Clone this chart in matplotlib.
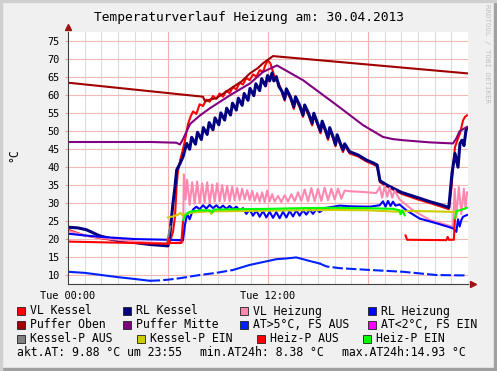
import numpy as np
import matplotlib
matplotlib.use("Agg")
import matplotlib.pyplot as plt
from matplotlib.patches import Rectangle

# --- data (hours since 00:00, degC) ---
vlk_t = [0, 0.5, 1, 2, 3, 4, 5, 5.9, 6.1, 6.3, 6.42, 6.52, 6.6, 6.76, 6.9, 7.02, 7.2, 7.35, 7.5, 7.7,
         7.9, 8.1, 8.3, 8.5, 8.7, 8.9, 9.1, 9.3, 9.5, 9.7, 9.9, 10.1, 10.3, 10.5, 10.7, 10.9, 11.1, 11.3,
         11.5, 11.7, 11.85, 12.0, 12.15, 12.3, 12.45, 12.6, 12.8, 13.0, 13.1, 13.35, 13.55, 13.65, 13.9,
         14.1, 14.2, 14.45, 14.65, 14.75, 14.95, 15.15, 15.25, 15.45, 15.6, 15.7, 15.9, 16.05, 16.15,
         16.35, 16.5, 16.6, 16.9, 17.4, 17.9, 18.3, 18.55, 18.72, 19.14, 20.0, 21.0, 21.72, 22.4, 22.85,
         23.0, 23.1, 23.22, 23.4, 23.52, 23.7, 23.82, 23.94]
vlk_v = [22.6, 21.8, 21.0, 20.2, 19.5, 19.0, 18.6, 18.5, 19.0, 22.0, 26.2, 35.0, 39.0, 42.5, 45.0, 47.5,
         52.0, 54.0, 55.5, 54.8, 57.5, 57.0, 58.8, 58.2, 59.8, 59.0, 60.5, 59.6, 61.2, 60.6, 62.3, 61.6,
         63.5, 63.0, 64.8, 64.2, 65.8, 65.2, 67.0, 66.5, 68.5, 69.7, 68.8, 66.5, 64.2, 63.8, 61.5, 58.5,
         61.2, 59.0, 56.2, 59.0, 56.6, 54.0, 56.7, 54.2, 51.6, 54.4, 52.0, 49.4, 52.2, 49.8, 47.6, 50.4,
         48.0, 45.8, 48.4, 46.0, 44.2, 46.0, 43.8, 43.0, 41.6, 40.8, 40.2, 35.8, 34.6, 32.6, 31.0, 30.0,
         29.0, 28.3, 34.0, 40.0, 45.6, 48.0, 49.4, 53.0, 54.0, 54.4]

rlk_t = [0, 0.6, 1.1, 1.9, 2.9, 4.9, 6.0, 6.12, 6.3, 6.42, 6.52, 6.72, 6.9, 7.12, 7.3, 7.42, 7.65, 7.77,
         8.0, 8.12, 8.35, 8.47, 8.7, 8.82, 9.05, 9.17, 9.4, 9.52, 9.75, 9.87, 10.1, 10.22, 10.45, 10.57,
         10.8, 10.92, 11.15, 11.27, 11.5, 11.62, 11.85, 11.97, 12.1, 12.24, 12.35, 12.5, 12.65, 12.85,
         13.0, 13.1, 13.35, 13.55, 13.65, 13.9, 14.1, 14.2, 14.45, 14.65, 14.75, 14.95, 15.15, 15.25,
         15.45, 15.6, 15.7, 15.9, 16.05, 16.15, 16.35, 16.5, 16.6, 16.9, 17.4, 17.9, 18.3, 18.55, 18.72,
         19.14, 20.0, 21.0, 21.72, 22.4, 22.85, 23.04, 23.22, 23.4, 23.52, 23.64, 23.76, 23.88, 23.94]
rlk_v = [23.3, 23.1, 22.6, 20.9, 19.7, 18.5, 18.1, 21.7, 30.0, 34.5, 39.2, 41.0, 42.9, 46.6, 45.0, 48.3,
         46.4, 49.7, 47.7, 51.0, 49.1, 52.4, 50.4, 53.7, 51.8, 55.1, 53.1, 56.4, 54.5, 57.8, 55.9, 59.2,
         57.2, 60.5, 58.6, 61.9, 59.9, 63.2, 61.3, 64.6, 62.6, 65.5, 64.0, 66.2, 64.0, 65.2, 62.5, 61.0,
         59.0, 61.8, 59.5, 56.8, 59.6, 57.2, 54.5, 57.3, 54.8, 52.2, 55.0, 52.5, 50.0, 52.8, 50.3, 48.2,
         51.0, 48.5, 46.3, 49.0, 46.5, 44.8, 46.5, 44.3, 43.4, 42.0, 41.2, 40.6, 36.2, 35.0, 33.0, 31.5,
         30.4, 29.5, 28.8, 38.3, 43.8, 40.0, 46.6, 47.5, 46.0, 50.3, 50.8]

vlh_t = [0, 1, 2, 3, 4, 5, 6.0, 6.9, 6.95, 7.05, 7.15, 7.3, 7.45, 7.6, 7.75, 7.9, 8.05, 8.2, 8.35, 8.5,
         8.65, 8.8, 8.95, 9.1, 9.25, 9.4, 9.55, 9.7, 9.85, 10.0, 10.15, 10.3, 10.45, 10.6, 10.75, 10.9,
         11.05, 11.2, 11.35, 11.5, 11.65, 11.8, 11.95, 12.1, 12.25, 12.4, 12.6, 12.8, 13.0, 13.2, 13.4,
         13.6, 13.8, 14.0, 14.2, 14.4, 14.6, 14.8, 15.0, 15.2, 15.4, 15.6, 15.8, 16.0, 16.2, 16.4, 16.6,
         16.9, 17.7, 18.5, 18.7, 18.85, 19.0, 19.15, 19.3, 19.45, 19.6, 19.9, 20.7, 21.72, 22.74, 23.1,
         23.2, 23.3, 23.45, 23.6, 23.75, 23.85, 23.94]
vlh_v = [22.3, 21.0, 20.3, 19.8, 19.3, 19.0, 18.8, 19.2, 38.0, 31.0, 36.5, 29.5, 35.8, 29.8, 36.0, 30.0,
         35.5, 30.2, 35.8, 30.0, 35.2, 30.4, 35.5, 30.5, 35.0, 30.6, 34.8, 30.5, 34.6, 30.8, 34.2, 30.8,
         34.0, 31.0, 33.6, 30.8, 33.4, 30.6, 32.8, 30.4, 33.0, 30.3, 33.5, 30.5, 32.5, 30.4, 32.0, 30.3,
         32.2, 30.4, 32.5, 30.5, 33.0, 30.6, 33.8, 30.5, 34.2, 30.5, 34.0, 30.6, 34.3, 30.8, 34.0, 31.0,
         34.0, 31.2, 33.5, 33.3, 33.1, 32.8, 34.5, 31.5, 34.8, 31.8, 34.2, 31.5, 33.5, 31.0, 28.0, 25.3,
         23.9, 23.4, 34.0, 26.0, 34.5, 27.0, 34.0, 28.5, 33.0]

rlh_t = [0, 1, 2, 3, 4, 5, 6.9, 7.02, 7.15, 7.3, 7.5, 7.7, 7.9, 8.1, 8.3, 8.5, 8.7, 8.9, 9.1, 9.3, 9.5,
         9.7, 9.9, 10.1, 10.3, 10.5, 10.7, 10.9, 11.1, 11.3, 11.5, 11.7, 11.9, 12.1, 12.3, 12.5, 12.7,
         12.9, 13.1, 13.3, 13.5, 13.7, 13.9, 14.1, 14.3, 14.5, 14.7, 14.9, 15.1, 15.4, 16.3, 17.0, 18.1,
         18.7, 18.9, 19.05, 19.2, 19.35, 19.5, 19.65, 19.9, 20.3, 21.1, 22.1, 23.1, 23.3, 23.4, 23.5,
         23.6, 23.7, 23.94]
rlh_v = [21.5, 21.0, 20.6, 20.3, 20.0, 19.9, 19.7, 24.0, 27.0, 25.5, 28.2, 29.0, 28.3, 29.4, 28.5, 29.5,
         28.6, 29.4, 28.5, 29.3, 28.4, 29.2, 28.3, 29.0, 28.0, 28.6, 27.0, 28.2, 26.5, 27.9, 26.2, 27.8,
         26.0, 27.6, 25.9, 27.5, 25.8, 27.6, 26.0, 27.8, 26.3, 28.0, 26.5, 28.0, 26.8, 28.2, 27.0, 28.3,
         27.5, 28.6, 29.3, 29.1, 29.0, 29.4, 30.5, 29.0, 30.6, 29.2, 30.4, 29.3, 29.6, 28.0, 25.7, 24.4,
         23.0, 22.0, 25.5, 23.5, 25.3, 26.2, 26.7]

po_t = [0, 8.1, 8.22, 8.4, 8.52, 8.9, 9.3, 9.9, 10.4, 10.92, 11.4, 11.7, 12.3, 23.94]
po_v = [63.5, 59.6, 58.3, 58.6, 58.8, 59.2, 60.4, 62.3, 63.8, 66.1, 67.6, 68.9, 70.9, 66.1]

pm_t = [0, 5.0, 6.5, 6.72, 6.9, 7.32, 7.92, 8.52, 9.72, 10.92, 11.7, 12.54, 14.1, 16.14, 17.7, 18.9,
        19.5, 20.1, 21.7, 23.1, 23.3, 23.5, 23.94]
pm_v = [47.0, 47.0, 46.8, 46.3, 47.8, 52.0, 54.4, 56.4, 60.0, 63.3, 66.5, 68.3, 64.2, 57.2, 51.7, 48.4,
        47.8, 47.5, 46.9, 46.6, 48.0, 50.0, 51.2]

at_t = [0, 1, 2, 3, 4, 4.9, 5.5, 6.0, 6.7, 7.9, 8.9, 9.9, 10.9, 11.7, 12.5, 13.1, 13.7, 14.5, 15.1,
        15.5, 16.3, 18.1, 20.1, 22.1, 23.5, 23.94]
at_v = [10.9, 10.6, 10.0, 9.4, 8.9, 8.4, 8.5, 8.7, 9.1, 10.0, 10.6, 11.4, 12.8, 13.6, 14.4, 14.6, 14.9,
        13.9, 13.2, 12.4, 11.9, 11.4, 10.9, 10.0, 9.9, 9.9]

kpa_t = [5.95, 6.05, 6.15]
kpa_v = [19.0, 21.5, 23.5]

kpe_t = [6.0, 6.3, 6.6, 6.75, 6.9, 7.0, 7.5, 8.5, 8.6, 8.7, 12.0, 16.0, 18.0, 19.9, 20.5, 22.0, 23.34]
kpe_v = [26.0, 26.3, 26.8, 27.3, 26.5, 26.8, 27.4, 27.7, 27.0, 27.7, 27.9, 28.1, 28.0, 27.6, 27.8, 27.7, 27.5]

hpa1_t = [0, 3, 6.0, 6.05, 6.12, 6.8, 6.9]
hpa1_v = [19.3, 19.0, 18.7, 20.2, 18.9, 18.9, 25.0]
hpa2_t = [20.25, 20.35, 22.7, 22.78, 22.85, 23.15, 23.22]
hpa2_v = [21.0, 19.8, 19.7, 20.6, 19.8, 19.8, 25.8]

hpe1_t = [6.9, 7.1, 7.32, 7.9, 8.5, 8.65, 8.75, 10, 12, 14, 16, 18, 19.5, 19.9, 19.95, 20.05, 20.2]
hpe1_v = [25.3, 27.0, 27.6, 28.0, 28.0, 27.4, 28.2, 28.3, 28.4, 28.6, 28.7, 28.6, 28.4, 28.0, 26.9, 28.0, 26.6]
hpe2_t = [23.22, 23.3, 23.52, 23.94]
hpe2_v = [25.8, 27.8, 28.0, 28.7]

legend_rows = [
    [("VL Kessel", "#ff0000"), ("RL Kessel", "#000080"), ("VL Heizung", "#ff88b0"), ("RL Heizung", "#0000ff")],
    [("Puffer Oben", "#a00000"), ("Puffer Mitte", "#800080"), ("AT>5°C, FS AUS", "#0022ff"), ("AT<2°C, FS EIN", "#ff00ff")],
    [("Kessel-P AUS", "#808080"), ("Kessel-P EIN", "#cccc00"), ("Heiz-P AUS", "#ff0000"), ("Heiz-P EIN", "#00ff00")],
]

W, H = 497, 371
mono = "DejaVu Sans Mono"
fig = plt.figure(figsize=(W / 100, H / 100), dpi=100, facecolor="#f0f0f0")
ax = fig.add_axes([68 / W, 1 - 284 / H, 400 / W, 252 / H])
ax.set_facecolor("white")
ax.set_xlim(0, 24)
ax.set_ylim(7.5, 77.6)

# grid like rrdtool: grey every hour, red every 6 h and every 5 degC
for h in range(1, 24):
    c = "#f2b0b0" if h % 6 == 0 else "#dcdcdc"
    ax.axvline(h, color=c, lw=0.8, zorder=0.5)
for y in range(10, 80, 5):
    ax.axhline(y, color="#f2b8b8", lw=0.8, zorder=0.5)

lw = 1.5
ax.plot(vlk_t, vlk_v, color="#ff0000", lw=lw)
ax.plot(rlk_t, rlk_v, color="#000080", lw=2.2)
ax.plot(vlh_t, vlh_v, color="#ff88b0", lw=lw)
ax.plot(rlh_t, rlh_v, color="#0000ff", lw=lw)
ax.plot(po_t, po_v, color="#a00000", lw=lw)
ax.plot(pm_t, pm_v, color="#800080", lw=lw)

# outside temp: solid where data is dense, dashed where it has gaps
at_t = np.array(at_t)
at_v = np.array(at_v)
dash1 = (at_t >= 4.9) & (at_t <= 9.9)
dash2 = at_t >= 15.1
ax.plot(np.where(at_t <= 4.9, at_t, np.nan), at_v, color="#0022ff", lw=lw)
ax.plot(np.where((at_t >= 9.9) & (at_t <= 15.1), at_t, np.nan), at_v, color="#0022ff", lw=lw)
ax.plot(at_t[dash1], at_v[dash1], color="#0022ff", lw=lw, ls=(0, (5, 1.5)))
ax.plot(at_t[dash2], at_v[dash2], color="#0022ff", lw=lw, ls=(0, (5, 1.5)))

ax.plot(kpa_t, kpa_v, color="#808080", lw=lw)
ax.plot(kpe_t, kpe_v, color="#cccc00", lw=lw)
ax.plot(hpa1_t, hpa1_v, color="#ff0000", lw=lw)
ax.plot(hpa2_t, hpa2_v, color="#ff0000", lw=lw)
ax.plot(hpe1_t, hpe1_v, color="#00ff00", lw=lw)
ax.plot(hpe2_t, hpe2_v, color="#00ff00", lw=lw)

for s in ["top", "right"]:
    ax.spines[s].set_visible(False)
for s in ["left", "bottom"]:
    ax.spines[s].set_color("#404040")
    ax.spines[s].set_linewidth(0.8)
ax.plot(0, 1.02, marker="^", color="#a01010", ms=4, transform=ax.transAxes, clip_on=False)
ax.plot(1.012, 0, marker=">", color="#a01010", ms=4, transform=ax.transAxes, clip_on=False)

ax.set_yticks(range(10, 80, 5))
ax.set_xticks([0, 12])
ax.set_xticklabels(["Tue 00:00", "Tue 12:00"])
ax.tick_params(axis="y", length=2, color="#e0a0a0", pad=4, labelsize=7.4)
ax.tick_params(axis="x", length=0, pad=5, labelsize=7.4)
for lab in ax.get_xticklabels() + ax.get_yticklabels():
    lab.set_family(mono)

def px(x, y):
    return x / W, 1 - y / H

fig.text(*px(W / 2, 17), "Temperaturverlauf Heizung am: 30.04.2013", ha="center", va="center",
         fontsize=9.3, family=mono)
fig.text(*px(14, 155), "°C", rotation=90, ha="center", va="center", fontsize=8.3, family=mono)
fig.text(*px(487, 4), "RRDTOOL / TOBI OETIKER", rotation=270, ha="center", va="top",
         fontsize=5.3, family=mono, color="#c0c0c0")

box_x = [[17, 123, 240, 368], [17, 123, 240, 368], [17, 137, 257, 363]]
row_y = [311, 325, 339]
for r, row in enumerate(legend_rows):
    for c, (name, col) in enumerate(row):
        bx = box_x[r][c]
        fig.add_artist(Rectangle(px(bx, row_y[r] + 4), 8 / W, 8 / H, transform=fig.transFigure,
                                 facecolor=col, edgecolor="#202020", lw=0.6))
        fig.text(*px(bx + 13, row_y[r]), name, ha="left", va="center", fontsize=8.3, family=mono)

fig.text(*px(17, 353), "akt.AT: 9.88 °C um 23:55", va="center", fontsize=8.3, family=mono)
fig.text(*px(200, 353), "min.AT24h: 8.38 °C", va="center", fontsize=8.3, family=mono)
fig.text(*px(342, 353), "max.AT24h:14.93 °C", va="center", fontsize=8.3, family=mono)

# frame
fig.add_artist(Rectangle((1 - 3 / W, 0), 3 / W, 1, transform=fig.transFigure, color="#a0a0a0"))
fig.add_artist(Rectangle((0, 0), 1, 3 / H, transform=fig.transFigure, color="#a0a0a0"))
fig.add_artist(Rectangle((0, 0), 2 / W, 1, transform=fig.transFigure, color="#d0d0d0"))
fig.add_artist(Rectangle((0, 1 - 2 / H), 1, 2 / H, transform=fig.transFigure, color="#d0d0d0"))

fig.savefig("out.png", dpi=100, facecolor=fig.get_facecolor())
